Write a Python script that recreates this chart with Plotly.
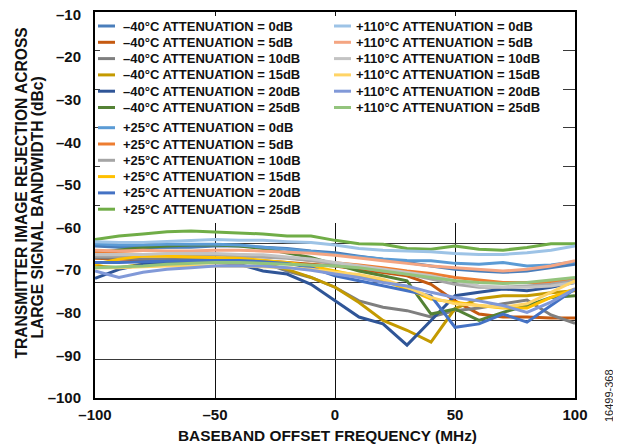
import plotly.graph_objects as go

# ---------------- data ----------------
freq_mhz = [-100, -90, -80, -70, -60, -50, -40, -30, -20, -10, 0,
            10, 20, 30, 40, 50, 60, 70, 80, 90, 100]

m40_0db = [-64.3, -64.6, -64.7, -64.7, -64.6, -64.3, -64.3, -64.6, -64.9, -65.5, -65.9,
           -66.7, -67.4, -68.2, -69.0, -69.8, -70.2, -70.5, -70.2, -69.4, -68.6]
m40_5db = [-67.2, -67.4, -67.7, -67.8, -67.8, -67.7, -67.7, -67.8, -68.2, -68.6, -69.0,
           -69.8, -70.5, -71.3, -73.3, -77.2, -80.3, -81.0, -81.0, -81.2, -81.2]
m40_10db = [-67.0, -67.2, -67.4, -67.4, -67.2, -67.2, -67.4, -68.2, -70.2, -71.7, -74.0,
            -77.2, -78.7, -79.5, -81.0, -79.5, -78.9, -77.9, -77.0, -80.5, -82.5]
m40_15db = [-69.0, -69.4, -68.6, -68.0, -67.8, -67.8, -68.0, -68.4, -69.8, -71.7, -74.0,
            -77.6, -81.8, -84.1, -86.9, -79.0, -76.7, -76.0, -76.0, -75.3, -74.8]
m40_20db = [-71.9, -69.8, -68.6, -68.4, -68.2, -68.2, -68.6, -70.2, -70.9, -73.3, -77.2,
            -81.0, -82.6, -87.6, -81.8, -76.0, -75.2, -74.4, -74.8, -74.0, -72.9]
m40_25db = [-65.9, -65.3, -64.7, -64.3, -64.1, -64.1, -64.3, -64.9, -65.9, -67.0, -68.6,
            -70.2, -71.3, -72.5, -80.3, -79.1, -81.8, -79.9, -78.3, -76.4, -76.0]

p25_0db = [-63.8, -64.1, -64.1, -63.9, -63.9, -63.9, -64.1, -64.6, -65.1, -65.6, -66.3,
           -66.9, -67.4, -67.7, -67.8, -68.4, -68.6, -68.2, -69.0, -68.8, -68.0]
p25_5db = [-65.9, -66.1, -66.3, -66.3, -66.3, -66.3, -66.4, -66.7, -67.0, -67.7, -68.2,
           -68.8, -69.4, -70.2, -70.8, -71.7, -72.3, -72.9, -72.9, -72.9, -72.1]
p25_10db = [-66.7, -66.7, -66.5, -66.3, -66.3, -66.4, -66.7, -66.9, -67.2, -67.7, -68.6,
            -69.4, -70.2, -70.9, -72.1, -73.3, -74.0, -74.0, -73.7, -73.3, -72.5]
p25_15db = [-68.6, -67.4, -66.7, -66.7, -66.9, -67.0, -67.2, -67.7, -68.2, -69.0, -70.2,
            -71.3, -72.5, -74.4, -76.8, -77.5, -78.3, -78.9, -78.9, -76.4, -74.4]
p25_20db = [-68.2, -68.2, -68.0, -67.8, -67.7, -67.7, -67.7, -68.0, -68.4, -69.4, -71.3,
            -72.5, -73.7, -74.8, -76.0, -83.4, -82.6, -80.3, -82.2, -78.3, -74.4]
p25_25db = [-62.8, -62.0, -61.5, -61.0, -60.8, -61.0, -61.2, -61.5, -62.0, -62.0, -63.0,
            -63.8, -63.9, -64.9, -65.1, -64.3, -65.1, -65.3, -64.7, -63.8, -63.8]

p110_0db = [-63.3, -63.5, -63.5, -63.3, -63.0, -62.8, -63.0, -63.0, -63.3, -63.5, -64.1,
            -64.9, -65.3, -65.5, -65.7, -66.1, -66.3, -66.3, -65.9, -65.3, -64.3]
p110_5db = [-65.3, -65.5, -65.3, -65.5, -65.5, -65.3, -65.3, -65.5, -65.7, -66.0, -66.5,
            -67.2, -67.8, -68.4, -69.0, -69.4, -69.8, -70.2, -69.8, -69.0, -67.8]
p110_10db = [-66.3, -66.3, -66.3, -66.1, -66.1, -66.1, -66.3, -66.4, -66.9, -67.4, -68.2,
             -69.0, -69.8, -70.5, -71.3, -72.5, -73.7, -74.0, -74.0, -73.7, -72.9]
p110_15db = [-69.4, -69.4, -69.2, -69.0, -69.0, -69.0, -69.0, -69.2, -69.4, -69.8, -70.5,
             -71.0, -72.1, -74.0, -76.4, -77.9, -78.3, -78.7, -77.9, -75.2, -72.5]
p110_20db = [-70.2, -71.7, -70.5, -69.8, -69.4, -69.0, -69.0, -69.0, -69.4, -70.0, -70.9,
             -71.7, -72.9, -73.7, -75.2, -76.4, -77.2, -78.3, -79.9, -77.5, -74.4]
p110_25db = [-69.4, -69.2, -69.0, -68.6, -68.4, -68.2, -68.2, -68.4, -68.6, -68.8, -69.0,
             -69.4, -70.2, -70.9, -71.7, -72.5, -72.9, -73.1, -72.9, -72.3, -71.7]

series_names = [
    "–40°C ATTENUATION = 0dB", "–40°C ATTENUATION = 5dB", "–40°C ATTENUATION = 10dB",
    "–40°C ATTENUATION = 15dB", "–40°C ATTENUATION = 20dB", "–40°C ATTENUATION = 25dB",
    "+25°C ATTENUATION = 0dB", "+25°C ATTENUATION = 5dB", "+25°C ATTENUATION = 10dB",
    "+25°C ATTENUATION = 15dB", "+25°C ATTENUATION = 20dB", "+25°C ATTENUATION = 25dB",
    "+110°C ATTENUATION = 0dB", "+110°C ATTENUATION = 5dB", "+110°C ATTENUATION = 10dB",
    "+110°C ATTENUATION = 15dB", "+110°C ATTENUATION = 20dB", "+110°C ATTENUATION = 25dB",
]
series_values = [m40_0db, m40_5db, m40_10db, m40_15db, m40_20db, m40_25db,
                 p25_0db, p25_5db, p25_10db, p25_15db, p25_20db, p25_25db,
                 p110_0db, p110_5db, p110_10db, p110_15db, p110_20db, p110_25db]
series_colors = ["#4A7EBB", "#C55A11", "#7F7F7F", "#C49A00", "#2F5597", "#548235",
                 "#5B9BD5", "#ED7D31", "#A5A5A5", "#FFC000", "#4472C4", "#70AD47",
                 "#9DC3E6", "#F4A582", "#C3C3C3", "#FFD466", "#8199D8", "#93C47D"]

x_tick_vals = [-100, -50, 0, 50, 100]
x_tick_text = ["–100", "–50", "0", "50", "100"]
y_tick_vals = [-100, -90, -80, -70, -60, -50, -40, -30, -20, -10]
y_tick_text = ["–100", "–90", "–80", "–70", "–60", "–50", "–40", "–30", "–20", "–10"]

# ---------------- layout geometry (page pixels) ----------------
PAGE_W, PAGE_H = 621, 446
BODY = 8                      # default body margin of the html page
W, H = PAGE_W - BODY, PAGE_H - BODY
L, R, T, B = 95, 575, 12, 398  # plot-area edges in page pixels
PW, PH = R - L, B - T


def px(x):
    return (x - L) / PW


def py(y):
    return (B - y) / PH


FONT = "Arial, Liberation Sans, Helvetica, sans-serif"

fig = go.Figure()
for name, vals, col in zip(series_names, series_values, series_colors):
    fig.add_trace(go.Scatter(x=freq_mhz, y=vals, mode="lines", name=name,
                             line=dict(color=col, width=3), showlegend=False))

shapes = []
annotations = []

# white legend panel masking the upper grid
shapes.append(dict(type="rect", xref="paper", yref="paper", layer="above",
                   x0=px(100), x1=px(563), y0=py(223), y1=py(16),
                   fillcolor="white", line=dict(width=0)))

# manual legend
col1_rows = [26, 42.3, 58.6, 74.9, 91.2, 107.5, 127.7, 144, 160.3, 176.6, 192.9, 209.2]
col2_rows = [26, 42.3, 58.6, 74.9, 91.2, 107.5]
entries = []
for i in range(12):
    entries.append((98, 115, 121, col1_rows[i]))
for i in range(6):
    entries.append((334, 351, 354, col2_rows[i]))
for (lx0, lx1, tx, ry), name, col in zip(entries, series_names, series_colors):
    shapes.append(dict(type="line", xref="paper", yref="paper", layer="above",
                       x0=px(lx0), x1=px(lx1), y0=py(ry), y1=py(ry),
                       line=dict(color=col, width=3)))
    annotations.append(dict(xref="paper", yref="paper", x=px(tx), y=py(ry),
                            text=name, showarrow=False, xanchor="left", yanchor="middle",
                            font=dict(family=FONT, size=13, color="#111", weight="bold")))

# axis titles
annotations.append(dict(xref="paper", yref="paper", x=px(327), y=py(436),
                        text="BASEBAND OFFSET FREQUENCY (MHz)", showarrow=False,
                        xanchor="center", yanchor="middle",
                        font=dict(family=FONT, size=15.4, color="#111", weight="bold")))
annotations.append(dict(xref="paper", yref="paper", x=px(21), y=py(193.5),
                        text="TRANSMITTER IMAGE REJECTION ACROSS", showarrow=False,
                        textangle=-90, xanchor="center", yanchor="middle",
                        font=dict(family=FONT, size=15.6, color="#111", weight="bold")))
annotations.append(dict(xref="paper", yref="paper", x=px(37), y=py(207.5),
                        text="LARGE SIGNAL BANDWIDTH (dBc)", showarrow=False,
                        textangle=-90, xanchor="center", yanchor="middle",
                        font=dict(family=FONT, size=15.6, color="#111", weight="bold")))
annotations.append(dict(xref="paper", yref="paper", x=px(609), y=py(396),
                        text="16499-368", showarrow=False, textangle=-90,
                        xanchor="center", yanchor="middle",
                        font=dict(family=FONT, size=11, color="#222")))

fig.update_layout(
    width=W, height=H,
    margin=dict(l=L - BODY, r=PAGE_W - R, t=T - BODY, b=PAGE_H - B, autoexpand=False),
    paper_bgcolor="white", plot_bgcolor="white",
    showlegend=False,
    shapes=shapes, annotations=annotations,
    xaxis=dict(range=[-100, 100], tickvals=x_tick_vals, ticktext=x_tick_text,
               showgrid=True, gridcolor="#111", gridwidth=1.4, automargin=False,
               showline=True, linecolor="#000", linewidth=2, mirror=True,
               zeroline=False, ticks="", ticklabelstandoff=2, ticklabeloverflow="allow",
               tickfont=dict(family=FONT, size=15, color="#111", weight="bold")),
    yaxis=dict(range=[-100, -9.4], tickvals=y_tick_vals, ticktext=y_tick_text,
               showgrid=False, showline=True, linecolor="#000", linewidth=2,
               mirror=True, zeroline=False, ticks="", ticklabelstandoff=9,
               automargin=False, ticklabeloverflow="allow",
               tickfont=dict(family=FONT, size=15, color="#111", weight="bold")),
    yaxis2=dict(range=[-100, 0], dtick=10, overlaying="y", side="right",
                showgrid=True, gridcolor="#3a3a3a", gridwidth=1.4, automargin=False,
                showticklabels=False, ticks="", zeroline=False, showline=False),
)
# a hidden trace to activate the grid axis
fig.add_trace(go.Scatter(x=[None], y=[None], yaxis="y2", showlegend=False,
                         hoverinfo="skip"))

fig.write_html("out.html")
